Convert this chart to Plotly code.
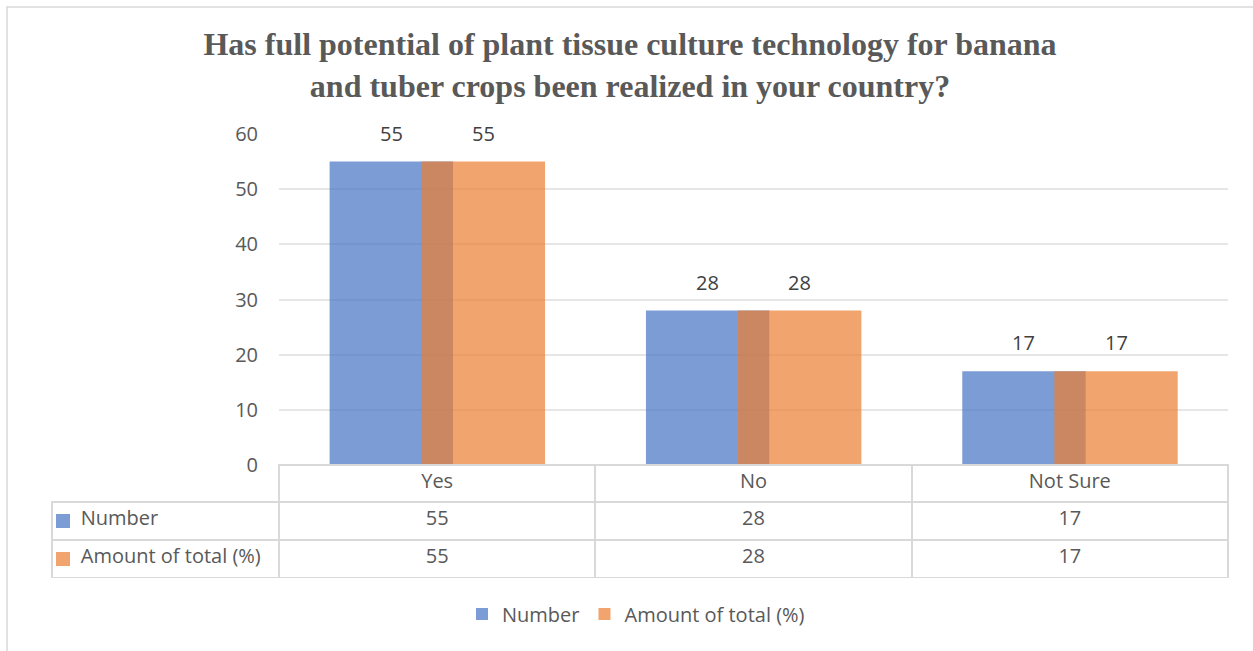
import plotly.graph_objects as go

categories = ["Yes", "No", "Not Sure"]
number_vals = [55, 28, 17]
percent_vals = [55, 28, 17]
series_names = ["Number", "Amount of total (%)"]
y_ticks = [0, 10, 20, 30, 40, 50, 60]

BLUE_T = "rgba(68,114,196,0.7)"
ORANGE_T = "rgba(237,125,49,0.7)"
TXT = "#595959"
LBL = "#404040"
FONT = "Open Sans"
FS = 20

W, H = 1253, 651
ML, MR, MT, MB = 52, 25, 134, 73
PW, PH = W - ML - MR, H - MT - MB
axis_left = (279 - ML) / PW
table_frac = (578 - 465) / PH

BAR_W = 0.39
OFFSETS = [-0.34, -0.049]
series = [(series_names[0], number_vals, BLUE_T), (series_names[1], percent_vals, ORANGE_T)]

fig = go.Figure()
annotations = []
for (name, vals, col), off in zip(series, OFFSETS):
    fig.add_trace(go.Bar(
        x=categories, y=vals, name=name,
        marker=dict(color=col, line=dict(width=0)),
        offset=off, width=BAR_W,
    ))
    for i, v in enumerate(vals):
        annotations.append(dict(
            x=i + off + BAR_W / 2, y=v, xref="x", yref="y",
            text=str(v), showarrow=False, yanchor="bottom", yshift=13,
            font=dict(size=FS, color=LBL, family=FONT),
        ))

row_labels = ["    " + s for s in series_names]
cell_cols = [row_labels] + [[n, p] for n, p in zip(number_vals, percent_vals)]
colw = [279 - ML] + [(1228 - 279) / 3] * 3

fig.add_trace(go.Table(
    domain=dict(x=[0, 1], y=[0, table_frac]),
    columnwidth=colw,
    header=dict(
        values=[""] + categories,
        height=37,
        align="center",
        font=dict(size=FS, color=TXT, family=FONT),
        fill_color=["rgba(0,0,0,0)", "white", "white", "white"],
        line=dict(color=["rgba(0,0,0,0)", "#D9D9D9", "#D9D9D9", "#D9D9D9"], width=2),
    ),
    cells=dict(
        values=cell_cols,
        height=38,
        align=["left", "center", "center", "center"],
        font=dict(size=FS, color=TXT, family=FONT),
        fill_color="white",
        line=dict(color="#D9D9D9", width=2),
    ),
))

# legend keys inside the data table's row-label cells
key_shapes = []
for i, col in enumerate([BLUE_T, ORANGE_T]):
    yc = 521 + 38 * i
    key_shapes.append(dict(
        type="rect", xref="paper", yref="paper",
        x0=(56 - ML) / PW, x1=(70 - ML) / PW,
        y0=(H - MB - (yc + 7)) / PH, y1=(H - MB - (yc - 7)) / PH,
        fillcolor=col, line=dict(width=0), layer="above",
    ))

fig.update_layout(
    width=W, height=H, autosize=False,
    margin=dict(l=ML, r=MR, t=MT, b=MB, autoexpand=False),
    paper_bgcolor="white", plot_bgcolor="white",
    barmode="overlay",
    title=dict(
        text="Has full potential of plant tissue culture technology for banana<br>and tuber crops been realized in your country?",
        x=630 / W, xref="container", xanchor="center",
        y=1 - 55 / H, yref="container", yanchor="middle",
        font=dict(family="Liberation Serif", size=32, color=TXT, weight="bold"),
    ),
    xaxis=dict(
        domain=[axis_left, 1], range=[-0.5, 2.5],
        showticklabels=False, showgrid=False, zeroline=False, showline=False,
        ticks="",
    ),
    yaxis=dict(
        domain=[table_frac, 1], range=[0, 60],
        tickvals=y_ticks, showgrid=True, gridcolor="#E6E6E6", gridwidth=1.5,
        zeroline=False, showline=False, ticks="",
        tickfont=dict(size=FS, color=TXT, family=FONT),
        ticklabelstandoff=20,
    ),
    legend=dict(
        orientation="h", x=(636 - ML) / PW, xanchor="center",
        y=(H - MB - 614) / PH, yanchor="middle",
        font=dict(size=FS, color=TXT, family=FONT),
        traceorder="normal",
    ),
    annotations=annotations,
    shapes=[dict(
        type="rect", xref="paper", yref="paper",
        x0=(7 - ML) / PW, x1=(1300 - ML) / PW,
        y0=(H - MB - 700) / PH, y1=(H - MB - 7) / PH,
        line=dict(color="#D9D9D9", width=1.5), fillcolor="rgba(0,0,0,0)",
        layer="below",
    )] + key_shapes,
    font=dict(family=FONT, color=TXT),
)

fig.write_html("out.html")
